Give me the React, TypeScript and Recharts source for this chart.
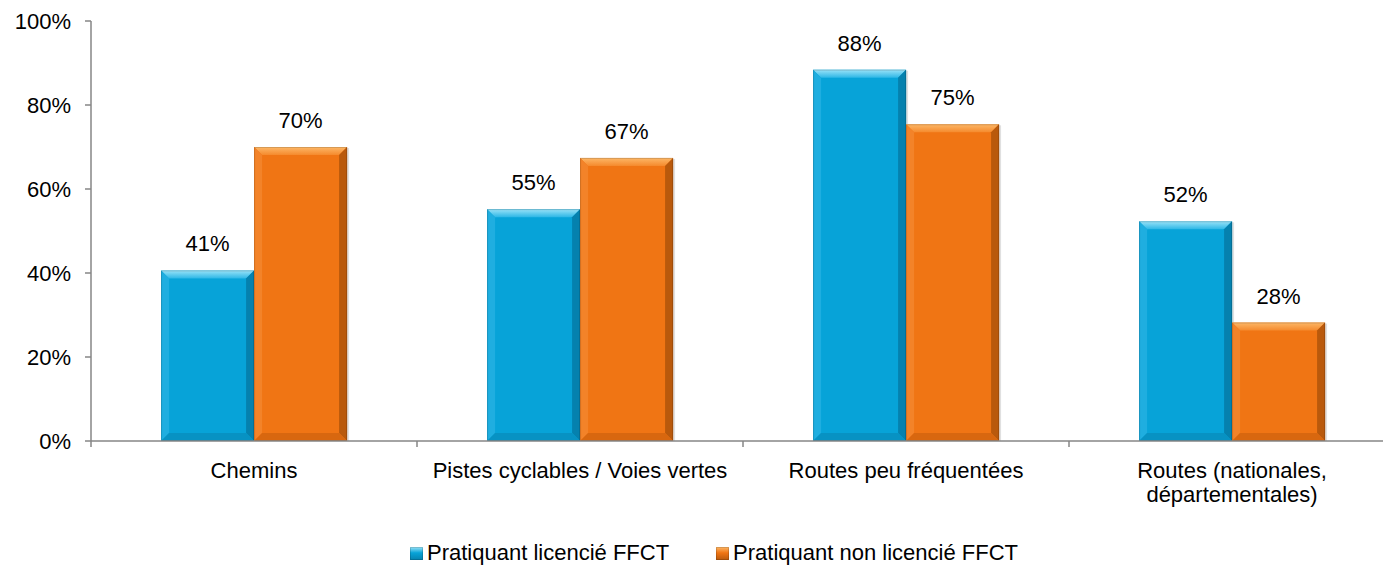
import React from 'react';
import { BarChart, Bar, XAxis, YAxis, Legend, LabelList } from 'recharts';

const categories = [
  'Chemins',
  'Pistes cyclables / Voies vertes',
  'Routes peu fréquentées',
  'Routes (nationales,\ndépartementales)',
];
const licencie = [40.6, 55.2, 88.4, 52.3];
const nonLicencie = [70, 67.4, 75.4, 28.2];
const seriesNames = ['Pratiquant licencié FFCT', 'Pratiquant non licencié FFCT'];
const yTicks = [0, 20, 40, 60, 80, 100];

const data = categories.map((c, i) => ({ name: c, a: licencie[i], b: nonLicencie[i] }));

const FONT = '"Liberation Sans", Arial, sans-serif';
const AXIS = '#868686';

const palettes = {
  blue: { body: '#07A3D8', top1: '#9BE3F8', top2: '#2DB7E6', left: '#1FAEE0', right: '#0581AE', bottom: '#0792C3', legend: '#0A9BD0' },
  orange: { body: '#F07514', top1: '#FDB868', top2: '#F58A2D', left: '#F38329', right: '#B9590C', bottom: '#D8670F', legend: '#E5700F' },
};

const makeShape = (key: 'blue' | 'orange') => (props: any) => {
  const { x, y, width, height } = props;
  if (!height || height <= 0) return <g />;
  const p = palettes[key];
  const b = Math.min(8, height / 2, width / 2);
  const x2 = x + width;
  const y2 = y + height;
  const gid = `grad-${key}`;
  return (
    <g>
      <defs>
        <linearGradient id={gid} x1="0" y1="0" x2="0" y2="1">
          <stop offset="0%" stopColor={p.top1} />
          <stop offset="100%" stopColor={p.top2} />
        </linearGradient>
      </defs>
      <rect x={x + 2} y={y + 1} width={width} height={height - 1} fill="#000" opacity={0.12} />
      <rect x={x} y={y} width={width} height={height} fill={p.body} />
      <polygon points={`${x},${y} ${x2},${y} ${x2 - b},${y + b} ${x + b},${y + b}`} fill={`url(#${gid})`} />
      <polygon points={`${x},${y} ${x + b},${y + b} ${x + b},${y2 - b} ${x},${y2}`} fill={p.left} />
      <polygon points={`${x2},${y} ${x2},${y2} ${x2 - b},${y2 - b} ${x2 - b},${y + b}`} fill={p.right} />
      <polygon points={`${x},${y2} ${x + b},${y2 - b} ${x2 - b},${y2 - b} ${x2},${y2}`} fill={p.bottom} />
      <rect x={x + 0.5} y={y + 0.5} width={width - 1} height={height - 1} fill="none" stroke="#000" strokeOpacity={0.15} />
    </g>
  );
};

const ValueLabel = (props: any) => {
  const { x, y, width, value } = props;
  return (
    <text x={x + width / 2} y={y - 19} textAnchor="middle" fontSize={22} fontFamily={FONT} fill="#000">
      {`${Math.round(value)}%`}
    </text>
  );
};

const CategoryTick = (props: any) => {
  const { x, y, payload, index, visibleTicksCount } = props;
  const half = payload && typeof payload.offset === 'number' ? payload.offset : 0;
  const lines = String(payload.value).split('\n');
  const isLast = index === (visibleTicksCount ? visibleTicksCount - 1 : categories.length - 1);
  return (
    <g>
      <line x1={x - half} x2={x - half} y1={y} y2={y + 6} stroke={AXIS} strokeWidth={1.5} />
      {isLast && <line x1={x + half} x2={x + half} y1={y} y2={y + 6} stroke={AXIS} strokeWidth={1.5} />}
      <text x={x} y={y + 37} textAnchor="middle" fontSize={22} fontFamily={FONT} fill="#000">
        {lines.map((l, i) => (
          <tspan key={i} x={x} dy={i === 0 ? 0 : 24}>
            {l}
          </tspan>
        ))}
      </text>
    </g>
  );
};

const LegendContent = () => {
  const items = [
    { name: seriesNames[0], color: palettes.blue },
    { name: seriesNames[1], color: palettes.orange },
  ];
  return (
    <div style={{ height: 40, boxSizing: 'border-box', paddingTop: 14, paddingLeft: 410, display: 'flex', alignItems: 'center', fontFamily: FONT, fontSize: 22, color: '#000', lineHeight: '26px' }}>
      {items.map((it, i) => (
        <div key={i} style={{ display: 'flex', alignItems: 'center', marginRight: 47 }}>
          <span
            style={{
              display: 'inline-block',
              width: 13,
              height: 13,
              marginRight: 4,
              background: `linear-gradient(180deg, ${it.color.top1} 0%, ${it.color.body} 45%, ${it.color.right} 100%)`,
              boxShadow: 'inset 0 0 0 1px rgba(0,0,0,0.15)',
            }}
          />
          <span>{it.name}</span>
        </div>
      ))}
    </div>
  );
};

export default function App() {
  return (
    <div style={{ position: 'absolute', left: 0, top: 0, width: 1383, height: 566, overflow: 'hidden', background: '#fff' }}>
      <BarChart
        width={1400}
        height={566}
        data={data}
        margin={{ top: 21, right: 5, left: 0, bottom: 0 }}
        barCategoryGap="21.5%"
        barGap={0}
      >
        <XAxis
          dataKey="name"
          height={85}
          tickLine={false}
          tickSize={0}
          tickMargin={0}
          interval={0}
          axisLine={{ stroke: AXIS, strokeWidth: 1.5 }}
          tick={<CategoryTick />}
        />
        <YAxis
          width={91}
          domain={[0, 100]}
          ticks={yTicks}
          interval={0}
          tickFormatter={(v: number) => `${v}%`}
          tickSize={6}
          tickMargin={14}
          axisLine={{ stroke: AXIS, strokeWidth: 1.5 }}
          tickLine={{ stroke: AXIS, strokeWidth: 1.5 }}
          tick={{ fill: '#000', fontSize: 22, fontFamily: FONT }}
        />
        <Legend verticalAlign="bottom" align="left" height={40} content={<LegendContent />} wrapperStyle={{ left: 0, width: 1383 }} />
        <Bar dataKey="a" name={seriesNames[0]} fill={palettes.blue.body} shape={makeShape('blue')} isAnimationActive={false}>
          <LabelList dataKey="a" content={<ValueLabel />} />
        </Bar>
        <Bar dataKey="b" name={seriesNames[1]} fill={palettes.orange.body} shape={makeShape('orange')} isAnimationActive={false}>
          <LabelList dataKey="b" content={<ValueLabel />} />
        </Bar>
      </BarChart>
    </div>
  );
}
